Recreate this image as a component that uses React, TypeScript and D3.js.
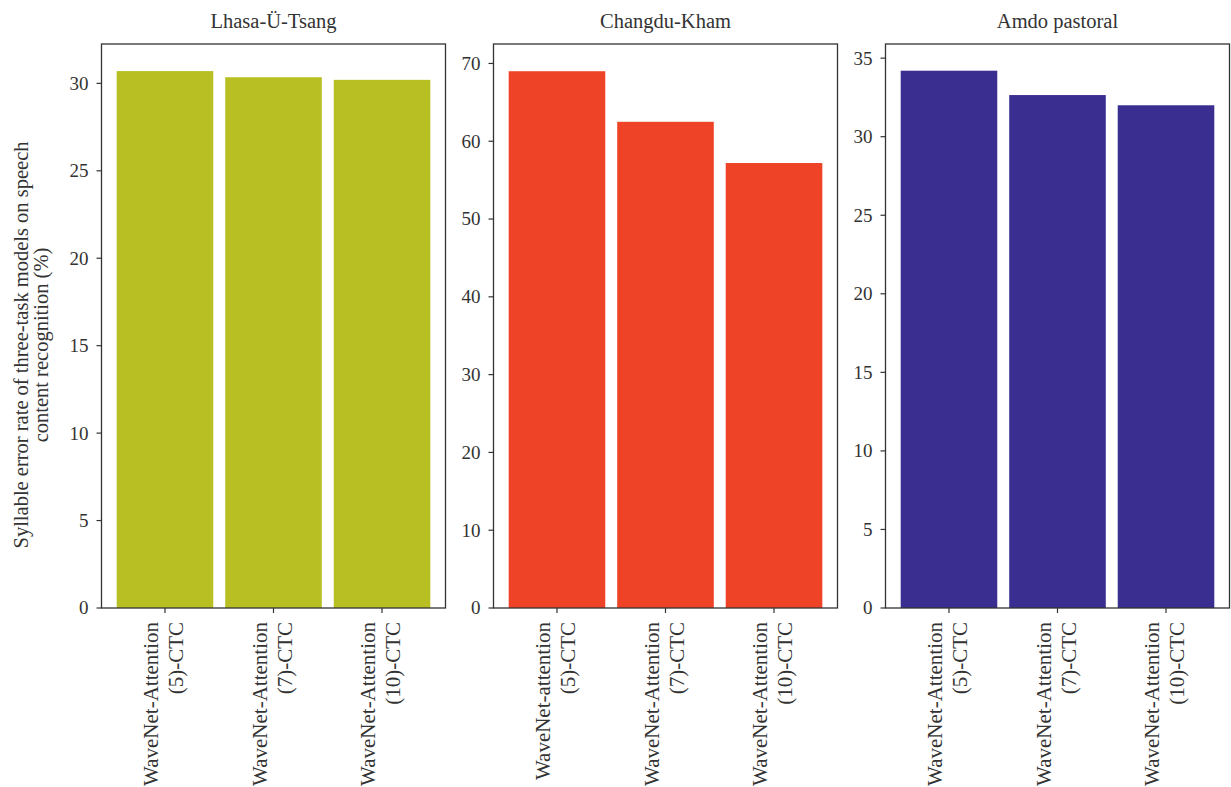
import React from "react";
import * as d3 from "d3";

// Model variants shown along each x axis (two-line labels)
const modelLine1 = [
  ["WaveNet-Attention", "WaveNet-Attention", "WaveNet-Attention"],
  ["WaveNet-attention", "WaveNet-Attention", "WaveNet-Attention"],
  ["WaveNet-Attention", "WaveNet-Attention", "WaveNet-Attention"],
];
const modelLine2 = ["(5)-CTC", "(7)-CTC", "(10)-CTC"];
const modelKeys = ["m5", "m7", "m10"];

// Dialect panels
const dialects = ["Lhasa-Ü-Tsang", "Changdu-Kham", "Amdo pastoral"];
const dialectColors = ["#b8bf22", "#ee4326", "#3a2f90"];

// Syllable error rate (%) per dialect
const lhasaValues = [30.7, 30.35, 30.2];
const changduValues = [69.0, 62.5, 57.2];
const amdoValues = [34.2, 32.65, 32.0];
const seriesValues = [lhasaValues, changduValues, amdoValues];

// Y axis extents and ticks per panel
const yMax = [32.25, 72.5, 35.9];
const yTicks = [
  [0, 5, 10, 15, 20, 25, 30],
  [0, 10, 20, 30, 40, 50, 60, 70],
  [0, 5, 10, 15, 20, 25, 30, 35],
];

const yTitle1 = "Syllable error rate of three-task models on speech";
const yTitle2 = "content recognition (%)";

const W = 1231;
const H = 787;
const panelLeft0 = 101.5;
const panelStep = 392;
const panelW = 344;
const top = 44;
const bottom = 608;
const FONT = "'Liberation Serif', 'Times New Roman', serif";
const INK = "#333333";

function Panel({ i }: { i: number }) {
  const x0 = panelLeft0 + i * panelStep;
  const x = d3
    .scaleBand<string>()
    .domain(modelKeys)
    .range([x0, x0 + panelW])
    .paddingInner(0.11)
    .paddingOuter(0.14);
  const y = d3.scaleLinear().domain([0, yMax[i]]).range([bottom, top]);
  const vals = seriesValues[i];
  return (
    <g>
      <text
        x={x0 + panelW / 2}
        y={28}
        textAnchor="middle"
        fontSize={20.5}
        fill={INK}
        fontFamily={FONT}
      >
        {dialects[i]}
      </text>
      {vals.map((v, j) => (
        <rect
          key={j}
          x={x(modelKeys[j])!}
          y={y(v)}
          width={x.bandwidth()}
          height={bottom - y(v)}
          fill={dialectColors[i]}
        />
      ))}
      <rect
        x={x0}
        y={top}
        width={panelW}
        height={bottom - top}
        fill="none"
        stroke={INK}
        strokeWidth={1.3}
      />
      {yTicks[i].map((t) => (
        <g key={t}>
          <line x1={x0 - 5} x2={x0} y1={y(t)} y2={y(t)} stroke={INK} strokeWidth={1.2} />
          <text
            x={x0 - 13}
            y={y(t)}
            dy="0.34em"
            textAnchor="end"
            fontSize={19}
            fill={INK}
            fontFamily={FONT}
          >
            {t}
          </text>
        </g>
      ))}
      {modelKeys.map((k, j) => {
        const cx = x(k)! + x.bandwidth() / 2;
        return (
          <g key={k}>
            <line x1={cx} x2={cx} y1={bottom} y2={bottom + 5} stroke={INK} strokeWidth={1.2} />
            <g transform={`translate(${cx},${bottom + 14}) rotate(-90)`}>
              <text
                x={0}
                y={-7}
                textAnchor="end"
                fontSize={21}
                fill={INK}
                fontFamily={FONT}
              >
                {modelLine1[i][j]}
              </text>
              <text
                x={0}
                y={18}
                textAnchor="end"
                fontSize={21}
                fill={INK}
                fontFamily={FONT}
              >
                {modelLine2[j]}
              </text>
            </g>
          </g>
        );
      })}
    </g>
  );
}

export default function App() {
  return (
    <svg
      width={W}
      height={H}
      style={{ position: "absolute", left: 0, top: 0, background: "#fff" }}
    >
      <g transform="translate(28,345) rotate(-90)">
        <text x={0} y={0} textAnchor="middle" fontSize={20.5} fill={INK} fontFamily={FONT}>
          {yTitle1}
        </text>
        <text x={0} y={20} textAnchor="middle" fontSize={20.5} fill={INK} fontFamily={FONT}>
          {yTitle2}
        </text>
      </g>
      {dialects.map((_, i) => (
        <Panel key={i} i={i} />
      ))}
    </svg>
  );
}
